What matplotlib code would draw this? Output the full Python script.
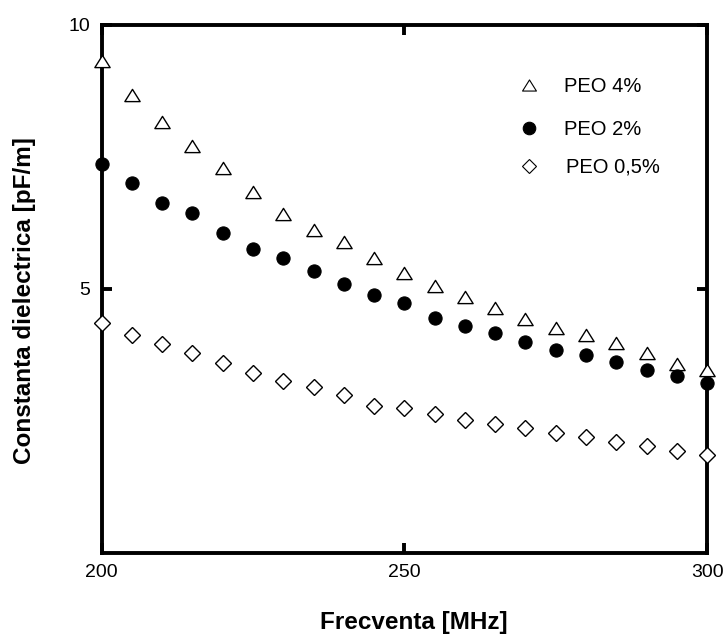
import matplotlib
matplotlib.use("Agg")
import matplotlib.pyplot as plt
from matplotlib.path import Path

plt.rcParams['font.family'] = ['Liberation Sans', 'DejaVu Sans']

freq = [200, 205, 210, 215, 220, 225, 230, 235, 240, 245, 250,
        255, 260, 265, 270, 275, 280, 285, 290, 295, 300]

peo_4 = [9.32, 8.67, 8.16, 7.70, 7.29, 6.83, 6.41, 6.12, 5.88, 5.58, 5.31,
         5.06, 4.85, 4.63, 4.43, 4.26, 4.13, 3.97, 3.79, 3.57, 3.46]
peo_2 = [7.36, 7.00, 6.63, 6.44, 6.05, 5.75, 5.58, 5.33, 5.09, 4.89, 4.74,
         4.45, 4.30, 4.17, 4.00, 3.84, 3.75, 3.61, 3.47, 3.35, 3.22]
peo_05 = [4.36, 4.13, 3.96, 3.78, 3.59, 3.40, 3.25, 3.14, 3.00, 2.78, 2.74,
          2.64, 2.52, 2.44, 2.36, 2.27, 2.19, 2.10, 2.02, 1.94, 1.86]

series_labels = ["PEO 4%", "PEO 2%", "PEO 0,5%"]
x_ticks = [200, 250, 300]
y_ticks = [5, 10]

# slightly flattened open triangle
tri = Path([(-1.0, -0.8), (1.0, -0.8), (0.0, 0.8), (-1.0, -0.8)],
           [Path.MOVETO, Path.LINETO, Path.LINETO, Path.CLOSEPOLY])

fig = plt.figure(figsize=(7.26, 6.35), dpi=100)
ax = fig.add_axes([0.140, 0.129, 0.834, 0.832])

kw = dict(linestyle='none', markeredgecolor='black', clip_on=False, zorder=3)
ax.plot(freq, peo_4, marker=tri, markersize=11, markerfacecolor='white',
        markeredgewidth=1.0, **kw)
ax.plot(freq, peo_2, marker='o', markersize=9.5, markerfacecolor='black',
        markeredgewidth=0.8, **kw)
ax.plot(freq, peo_05, marker='D', markersize=8, markerfacecolor='white',
        markeredgewidth=1.0, **kw)

ax.set_xlim(200, 300)
ax.set_ylim(0, 10)
ax.set_xticks(x_ticks)
ax.set_yticks(y_ticks)
ax.tick_params(direction='in', length=7, width=2.8, top=True, right=True,
               labeltop=False, labelright=False, labelsize=14, pad=8)
for s in ax.spines.values():
    s.set_linewidth(2.8)

fig.text(413.5 / 726, 1 - 623 / 635, "Frecventa [MHz]", fontsize=17.5,
         fontweight='bold', ha='center', va='center')
fig.text(25 / 726, 1 - 301 / 635, "Constanta dielectrica [pF/m]",
         fontsize=17.5, fontweight='bold', ha='center', va='center',
         rotation=90)

# legend entries placed inside the axes
leg_y = [8.86, 8.05, 7.33]
leg_markers = [(tri, 'white', 10), ('o', 'black', 9), ('D', 'white', 6.8)]
leg_text_x = [276.3, 276.3, 276.7]
for yv, (m, fc, ms), tx, lab in zip(leg_y, leg_markers, leg_text_x,
                                    series_labels):
    ax.plot([270.6], [yv], marker=m, markersize=ms, markerfacecolor=fc,
            markeredgecolor='black', markeredgewidth=0.8, linestyle='none')
    ax.text(tx, yv - 0.03, lab, fontsize=14.5, va='center', ha='left')

fig.savefig("out.png", dpi=100, facecolor='white')
